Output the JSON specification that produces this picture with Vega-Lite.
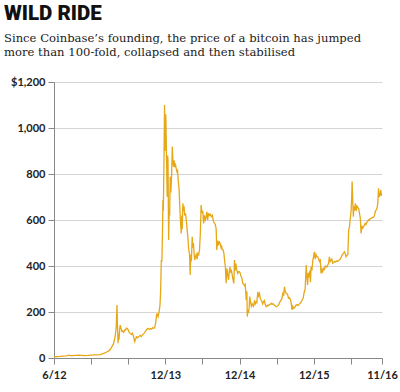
{
  "$schema": "https://vega.github.io/schema/vega-lite/v6.json",
  "autosize": "none",
  "width": 328,
  "height": 276,
  "padding": {"left": 54, "top": 82, "right": 18, "bottom": 34},
  "background": "white",
  "title": {
    "text": "WILD RIDE",
    "subtitle": ["Since Coinbase’s founding, the price of a bitcoin has jumped", "more than 100-fold, collapsed and then stabilised"],
    "anchor": "start",
    "frame": "group",
    "dx": -50,
    "offset": 17,
    "font": "Roboto",
    "fontSize": 20.5,
    "fontWeight": 900,
    "color": "#111111",
    "subtitleFont": "DejaVu Serif",
    "subtitleFontSize": 11.6,
    "subtitleColor": "#222222",
    "subtitleLineHeight": 14.5,
    "subtitlePadding": 8
  },
  "config": {
    "view": {"stroke": null},
    "axis": {
      "labelFont": "Lato",
      "labelFontSize": 11,
      "labelColor": "#222222",
      "domainColor": "#888888",
      "tickColor": "#888888",
      "tickSize": 6,
      "gridColor": "#d4d4d4",
      "title": null
    }
  },
  "data": {
    "values": [
      {"date": "2012-06-01", "price": 5.3},
      {"date": "2012-06-15", "price": 6.4},
      {"date": "2012-07-01", "price": 6.7},
      {"date": "2012-07-15", "price": 7.8},
      {"date": "2012-08-01", "price": 9.4},
      {"date": "2012-08-15", "price": 12.5},
      {"date": "2012-08-20", "price": 10.5},
      {"date": "2012-09-01", "price": 10.1},
      {"date": "2012-09-15", "price": 11.8},
      {"date": "2012-10-01", "price": 12.4},
      {"date": "2012-10-15", "price": 11.8},
      {"date": "2012-11-01", "price": 10.6},
      {"date": "2012-11-15", "price": 11.3},
      {"date": "2012-12-01", "price": 12.5},
      {"date": "2012-12-15", "price": 13.3},
      {"date": "2013-01-01", "price": 13.4},
      {"date": "2013-01-15", "price": 14.4},
      {"date": "2013-02-01", "price": 20},
      {"date": "2013-02-15", "price": 26},
      {"date": "2013-03-01", "price": 33},
      {"date": "2013-03-10", "price": 45},
      {"date": "2013-03-20", "price": 60},
      {"date": "2013-03-28", "price": 90},
      {"date": "2013-04-03", "price": 130},
      {"date": "2013-04-07", "price": 230},
      {"date": "2013-04-09", "price": 150},
      {"date": "2013-04-12", "price": 64},
      {"date": "2013-04-15", "price": 105},
      {"date": "2013-04-17", "price": 80},
      {"date": "2013-04-20", "price": 125},
      {"date": "2013-04-23", "price": 143},
      {"date": "2013-04-27", "price": 128},
      {"date": "2013-05-01", "price": 115},
      {"date": "2013-05-06", "price": 118},
      {"date": "2013-05-10", "price": 112},
      {"date": "2013-05-15", "price": 122},
      {"date": "2013-05-19", "price": 121},
      {"date": "2013-05-23", "price": 130},
      {"date": "2013-05-28", "price": 128},
      {"date": "2013-06-02", "price": 120},
      {"date": "2013-06-07", "price": 110},
      {"date": "2013-06-12", "price": 106},
      {"date": "2013-06-17", "price": 102},
      {"date": "2013-06-22", "price": 108},
      {"date": "2013-06-27", "price": 95},
      {"date": "2013-07-03", "price": 71},
      {"date": "2013-07-07", "price": 80},
      {"date": "2013-07-12", "price": 92},
      {"date": "2013-07-18", "price": 88},
      {"date": "2013-07-24", "price": 94},
      {"date": "2013-07-30", "price": 98},
      {"date": "2013-08-05", "price": 93},
      {"date": "2013-08-10", "price": 100},
      {"date": "2013-08-16", "price": 105},
      {"date": "2013-08-22", "price": 112},
      {"date": "2013-08-28", "price": 120},
      {"date": "2013-09-02", "price": 126},
      {"date": "2013-09-06", "price": 129},
      {"date": "2013-09-12", "price": 124},
      {"date": "2013-09-18", "price": 128},
      {"date": "2013-09-24", "price": 125},
      {"date": "2013-09-30", "price": 132},
      {"date": "2013-10-04", "price": 130},
      {"date": "2013-10-09", "price": 130},
      {"date": "2013-10-14", "price": 150},
      {"date": "2013-10-20", "price": 194},
      {"date": "2013-10-26", "price": 180},
      {"date": "2013-11-01", "price": 205},
      {"date": "2013-11-05", "price": 235},
      {"date": "2013-11-08", "price": 300},
      {"date": "2013-11-11", "price": 426},
      {"date": "2013-11-14", "price": 420},
      {"date": "2013-11-17", "price": 560},
      {"date": "2013-11-19", "price": 687},
      {"date": "2013-11-21", "price": 640},
      {"date": "2013-11-24", "price": 850},
      {"date": "2013-11-27", "price": 1100},
      {"date": "2013-11-29", "price": 900},
      {"date": "2013-12-01", "price": 1000},
      {"date": "2013-12-03", "price": 1060},
      {"date": "2013-12-05", "price": 962},
      {"date": "2013-12-08", "price": 800},
      {"date": "2013-12-10", "price": 701},
      {"date": "2013-12-12", "price": 880},
      {"date": "2013-12-14", "price": 860},
      {"date": "2013-12-17", "price": 513},
      {"date": "2013-12-20", "price": 650},
      {"date": "2013-12-22", "price": 620},
      {"date": "2013-12-25", "price": 788},
      {"date": "2013-12-28", "price": 720},
      {"date": "2014-01-01", "price": 800},
      {"date": "2014-01-04", "price": 919},
      {"date": "2014-01-07", "price": 860},
      {"date": "2014-01-10", "price": 832},
      {"date": "2014-01-13", "price": 860},
      {"date": "2014-01-16", "price": 830},
      {"date": "2014-01-20", "price": 840},
      {"date": "2014-01-24", "price": 820},
      {"date": "2014-01-27", "price": 810},
      {"date": "2014-01-30", "price": 815},
      {"date": "2014-02-02", "price": 774},
      {"date": "2014-02-06", "price": 740},
      {"date": "2014-02-09", "price": 680},
      {"date": "2014-02-13", "price": 600},
      {"date": "2014-02-17", "price": 542},
      {"date": "2014-02-20", "price": 620},
      {"date": "2014-02-22", "price": 560},
      {"date": "2014-02-25", "price": 673},
      {"date": "2014-02-28", "price": 640},
      {"date": "2014-03-03", "price": 660},
      {"date": "2014-03-06", "price": 620},
      {"date": "2014-03-10", "price": 629},
      {"date": "2014-03-14", "price": 600},
      {"date": "2014-03-18", "price": 560},
      {"date": "2014-03-22", "price": 520},
      {"date": "2014-03-26", "price": 470},
      {"date": "2014-03-30", "price": 450},
      {"date": "2014-04-02", "price": 361},
      {"date": "2014-04-05", "price": 450},
      {"date": "2014-04-08", "price": 420},
      {"date": "2014-04-12", "price": 527},
      {"date": "2014-04-15", "price": 480},
      {"date": "2014-04-18", "price": 500},
      {"date": "2014-04-21", "price": 460},
      {"date": "2014-04-24", "price": 426},
      {"date": "2014-04-28", "price": 440},
      {"date": "2014-05-02", "price": 450},
      {"date": "2014-05-06", "price": 430},
      {"date": "2014-05-10", "price": 455},
      {"date": "2014-05-14", "price": 450},
      {"date": "2014-05-18", "price": 470},
      {"date": "2014-05-22", "price": 540},
      {"date": "2014-05-26", "price": 665},
      {"date": "2014-05-30", "price": 630},
      {"date": "2014-06-03", "price": 640},
      {"date": "2014-06-07", "price": 585},
      {"date": "2014-06-11", "price": 620},
      {"date": "2014-06-15", "price": 600},
      {"date": "2014-06-19", "price": 610},
      {"date": "2014-06-23", "price": 636},
      {"date": "2014-06-27", "price": 600},
      {"date": "2014-07-01", "price": 630},
      {"date": "2014-07-05", "price": 620},
      {"date": "2014-07-10", "price": 625},
      {"date": "2014-07-15", "price": 614},
      {"date": "2014-07-20", "price": 620},
      {"date": "2014-07-25", "price": 595},
      {"date": "2014-07-31", "price": 585},
      {"date": "2014-08-04", "price": 580},
      {"date": "2014-08-08", "price": 560},
      {"date": "2014-08-11", "price": 470},
      {"date": "2014-08-15", "price": 510},
      {"date": "2014-08-19", "price": 490},
      {"date": "2014-08-23", "price": 505},
      {"date": "2014-08-27", "price": 500},
      {"date": "2014-09-01", "price": 480},
      {"date": "2014-09-04", "price": 485},
      {"date": "2014-09-07", "price": 470},
      {"date": "2014-09-11", "price": 470},
      {"date": "2014-09-15", "price": 455},
      {"date": "2014-09-19", "price": 420},
      {"date": "2014-09-22", "price": 400},
      {"date": "2014-09-26", "price": 325},
      {"date": "2014-09-30", "price": 390},
      {"date": "2014-10-04", "price": 360},
      {"date": "2014-10-08", "price": 340},
      {"date": "2014-10-12", "price": 380},
      {"date": "2014-10-15", "price": 395},
      {"date": "2014-10-18", "price": 375},
      {"date": "2014-10-22", "price": 380},
      {"date": "2014-10-26", "price": 360},
      {"date": "2014-10-30", "price": 340},
      {"date": "2014-11-03", "price": 325},
      {"date": "2014-11-06", "price": 426},
      {"date": "2014-11-09", "price": 380},
      {"date": "2014-11-13", "price": 410},
      {"date": "2014-11-17", "price": 385},
      {"date": "2014-11-22", "price": 368},
      {"date": "2014-11-26", "price": 375},
      {"date": "2014-11-30", "price": 375},
      {"date": "2014-12-04", "price": 370},
      {"date": "2014-12-08", "price": 355},
      {"date": "2014-12-12", "price": 350},
      {"date": "2014-12-17", "price": 325},
      {"date": "2014-12-21", "price": 320},
      {"date": "2014-12-25", "price": 315},
      {"date": "2014-12-29", "price": 320},
      {"date": "2015-01-03", "price": 252},
      {"date": "2015-01-06", "price": 290},
      {"date": "2015-01-08", "price": 180},
      {"date": "2015-01-11", "price": 210},
      {"date": "2015-01-14", "price": 195},
      {"date": "2015-01-17", "price": 215},
      {"date": "2015-01-20", "price": 267},
      {"date": "2015-01-24", "price": 245},
      {"date": "2015-01-28", "price": 225},
      {"date": "2015-02-01", "price": 235},
      {"date": "2015-02-04", "price": 230},
      {"date": "2015-02-08", "price": 225},
      {"date": "2015-02-12", "price": 245},
      {"date": "2015-02-16", "price": 235},
      {"date": "2015-02-20", "price": 245},
      {"date": "2015-02-24", "price": 240},
      {"date": "2015-03-01", "price": 288},
      {"date": "2015-03-05", "price": 270},
      {"date": "2015-03-09", "price": 280},
      {"date": "2015-03-13", "price": 260},
      {"date": "2015-03-17", "price": 252},
      {"date": "2015-03-21", "price": 245},
      {"date": "2015-03-25", "price": 235},
      {"date": "2015-03-29", "price": 245},
      {"date": "2015-04-02", "price": 250},
      {"date": "2015-04-06", "price": 235},
      {"date": "2015-04-11", "price": 223},
      {"date": "2015-04-15", "price": 225},
      {"date": "2015-04-19", "price": 230},
      {"date": "2015-04-23", "price": 228},
      {"date": "2015-04-27", "price": 232},
      {"date": "2015-05-02", "price": 235},
      {"date": "2015-05-06", "price": 238},
      {"date": "2015-05-10", "price": 233},
      {"date": "2015-05-15", "price": 236},
      {"date": "2015-05-20", "price": 230},
      {"date": "2015-05-25", "price": 227},
      {"date": "2015-05-30", "price": 223},
      {"date": "2015-06-04", "price": 225},
      {"date": "2015-06-09", "price": 228},
      {"date": "2015-06-14", "price": 235},
      {"date": "2015-06-18", "price": 245},
      {"date": "2015-06-22", "price": 250},
      {"date": "2015-06-26", "price": 255},
      {"date": "2015-06-29", "price": 265},
      {"date": "2015-07-02", "price": 280},
      {"date": "2015-07-06", "price": 270},
      {"date": "2015-07-10", "price": 310},
      {"date": "2015-07-14", "price": 290},
      {"date": "2015-07-18", "price": 281},
      {"date": "2015-07-22", "price": 280},
      {"date": "2015-07-26", "price": 275},
      {"date": "2015-07-30", "price": 260},
      {"date": "2015-08-03", "price": 262},
      {"date": "2015-08-08", "price": 255},
      {"date": "2015-08-12", "price": 240},
      {"date": "2015-08-16", "price": 209},
      {"date": "2015-08-20", "price": 225},
      {"date": "2015-08-25", "price": 215},
      {"date": "2015-08-30", "price": 220},
      {"date": "2015-09-05", "price": 230},
      {"date": "2015-09-10", "price": 232},
      {"date": "2015-09-15", "price": 228},
      {"date": "2015-09-20", "price": 233},
      {"date": "2015-09-25", "price": 238},
      {"date": "2015-09-30", "price": 242},
      {"date": "2015-10-05", "price": 252},
      {"date": "2015-10-10", "price": 260},
      {"date": "2015-10-15", "price": 285},
      {"date": "2015-10-20", "price": 300},
      {"date": "2015-10-25", "price": 404},
      {"date": "2015-10-28", "price": 360},
      {"date": "2015-11-01", "price": 317},
      {"date": "2015-11-04", "price": 370},
      {"date": "2015-11-08", "price": 350},
      {"date": "2015-11-12", "price": 380},
      {"date": "2015-11-15", "price": 330},
      {"date": "2015-11-18", "price": 397},
      {"date": "2015-11-22", "price": 380},
      {"date": "2015-11-26", "price": 420},
      {"date": "2015-11-30", "price": 440},
      {"date": "2015-12-04", "price": 462},
      {"date": "2015-12-08", "price": 430},
      {"date": "2015-12-12", "price": 450},
      {"date": "2015-12-16", "price": 440},
      {"date": "2015-12-21", "price": 440},
      {"date": "2015-12-25", "price": 430},
      {"date": "2015-12-29", "price": 420},
      {"date": "2016-01-02", "price": 430},
      {"date": "2016-01-06", "price": 368},
      {"date": "2016-01-10", "price": 385},
      {"date": "2016-01-14", "price": 375},
      {"date": "2016-01-18", "price": 390},
      {"date": "2016-01-23", "price": 385},
      {"date": "2016-01-27", "price": 400},
      {"date": "2016-01-31", "price": 397},
      {"date": "2016-02-04", "price": 395},
      {"date": "2016-02-08", "price": 405},
      {"date": "2016-02-12", "price": 410},
      {"date": "2016-02-16", "price": 440},
      {"date": "2016-02-20", "price": 420},
      {"date": "2016-02-24", "price": 425},
      {"date": "2016-02-28", "price": 430},
      {"date": "2016-03-03", "price": 412},
      {"date": "2016-03-08", "price": 415},
      {"date": "2016-03-13", "price": 420},
      {"date": "2016-03-18", "price": 418},
      {"date": "2016-03-23", "price": 422},
      {"date": "2016-03-28", "price": 420},
      {"date": "2016-04-01", "price": 425},
      {"date": "2016-04-05", "price": 426},
      {"date": "2016-04-10", "price": 430},
      {"date": "2016-04-15", "price": 440},
      {"date": "2016-04-20", "price": 450},
      {"date": "2016-04-25", "price": 455},
      {"date": "2016-04-30", "price": 462},
      {"date": "2016-05-04", "price": 455},
      {"date": "2016-05-08", "price": 440},
      {"date": "2016-05-12", "price": 445},
      {"date": "2016-05-17", "price": 450},
      {"date": "2016-05-21", "price": 557},
      {"date": "2016-05-25", "price": 570},
      {"date": "2016-05-28", "price": 600},
      {"date": "2016-06-02", "price": 640},
      {"date": "2016-06-05", "price": 700},
      {"date": "2016-06-07", "price": 767},
      {"date": "2016-06-10", "price": 680},
      {"date": "2016-06-13", "price": 614},
      {"date": "2016-06-16", "price": 660},
      {"date": "2016-06-19", "price": 640},
      {"date": "2016-06-23", "price": 673},
      {"date": "2016-06-27", "price": 640},
      {"date": "2016-07-01", "price": 660},
      {"date": "2016-07-05", "price": 655},
      {"date": "2016-07-09", "price": 651},
      {"date": "2016-07-13", "price": 630},
      {"date": "2016-07-17", "price": 610},
      {"date": "2016-07-21", "price": 542},
      {"date": "2016-07-25", "price": 575},
      {"date": "2016-07-29", "price": 565},
      {"date": "2016-08-02", "price": 570},
      {"date": "2016-08-06", "price": 578},
      {"date": "2016-08-10", "price": 585},
      {"date": "2016-08-14", "price": 580},
      {"date": "2016-08-18", "price": 590},
      {"date": "2016-08-22", "price": 593},
      {"date": "2016-08-26", "price": 600},
      {"date": "2016-08-30", "price": 598},
      {"date": "2016-09-03", "price": 605},
      {"date": "2016-09-08", "price": 607},
      {"date": "2016-09-12", "price": 610},
      {"date": "2016-09-16", "price": 612},
      {"date": "2016-09-20", "price": 610},
      {"date": "2016-09-25", "price": 620},
      {"date": "2016-09-30", "price": 640},
      {"date": "2016-10-03", "price": 643},
      {"date": "2016-10-07", "price": 650},
      {"date": "2016-10-11", "price": 670},
      {"date": "2016-10-15", "price": 738},
      {"date": "2016-10-18", "price": 700},
      {"date": "2016-10-22", "price": 709},
      {"date": "2016-10-26", "price": 730},
      {"date": "2016-10-29", "price": 705},
      {"date": "2016-11-01", "price": 716}
    ]
  },
  "mark": {"type": "line", "color": "#e6a817", "strokeWidth": 1.3, "clip": true},
  "encoding": {
    "x": {
      "field": "date",
      "type": "temporal",
      "scale": {
        "type": "utc",
        "domain": [
          {"year": 2012, "month": 6, "date": 1, "utc": true},
          {"year": 2016, "month": 11, "date": 1, "utc": true}
        ]
      },
      "axis": {
        "grid": false,
        "values": [
          {"year": 2012, "month": 6, "date": 1, "utc": true},
          {"year": 2012, "month": 12, "date": 1, "utc": true},
          {"year": 2013, "month": 6, "date": 1, "utc": true},
          {"year": 2013, "month": 12, "date": 1, "utc": true},
          {"year": 2014, "month": 6, "date": 1, "utc": true},
          {"year": 2014, "month": 12, "date": 1, "utc": true},
          {"year": 2015, "month": 6, "date": 1, "utc": true},
          {"year": 2015, "month": 12, "date": 1, "utc": true},
          {"year": 2016, "month": 6, "date": 1, "utc": true},
          {"year": 2016, "month": 11, "date": 1, "utc": true}
        ],
        "labelExpr": "((utcmonth(datum.value) == 11 && utcyear(datum.value) > 2012) || (utcmonth(datum.value) == 5 && utcyear(datum.value) == 2012) || utcmonth(datum.value) == 10) ? utcFormat(datum.value, '%-m/%y') : ''",
        "labelOverlap": false,
        "labelFlush": false,
        "labelPadding": 5,
        "labelFontWeight": "bold"
      }
    },
    "y": {
      "field": "price",
      "type": "quantitative",
      "scale": {"domain": [0, 1200], "nice": false},
      "axis": {
        "values": [0, 200, 400, 600, 800, 1000, 1200],
        "labelExpr": "datum.value == 1200 ? '$1,200' : format(datum.value, ',')",
        "labelPadding": 3,
        "labelFontWeight": "bold"
      }
    }
  }
}
